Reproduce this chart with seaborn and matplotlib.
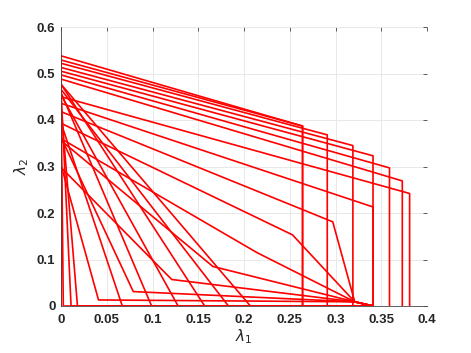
import numpy as np
import pandas as pd
import matplotlib
matplotlib.use("Agg")
import matplotlib.pyplot as plt
import seaborn as sns

# ---- data ----
# Family 1: (0,a) -> (b,c) -> (b,0)
box_start = [0.538, 0.529, 0.522, 0.513, 0.505, 0.497, 0.488, 0.450, 0.436]
box_cx = [0.264, 0.264, 0.291, 0.319, 0.341, 0.359, 0.373, 0.381, 0.341]
box_cy = [0.387, 0.387, 0.368, 0.345, 0.323, 0.297, 0.269, 0.242, 0.213]

# Family 2: (0,a) -> (cx,cy) -> knee point -> (end,0)
kink_start = [0.418, 0.393, 0.360, 0.356, 0.298, 0.363, 0.303]
kink_cx = [0.297, 0.253, 0.214, 0.166, 0.121, 0.079, 0.041]
kink_cy = [0.181, 0.153, 0.115, 0.085, 0.057, 0.031, 0.013]
knee_x = 0.321
knee_y = 0.009
kink_end = 0.341

# Family 3: straight lines (0,a) -> (x0,0)
line_start = [0.477, 0.466, 0.430, 0.394, 0.459, 0.454, 0.477, 0.466, 0.477]
line_end = [0.0025, 0.011, 0.018, 0.067, 0.099, 0.128, 0.157, 0.183, 0.207]

xticks = [0, 0.05, 0.1, 0.15, 0.2, 0.25, 0.3, 0.35, 0.4]
yticks = [0, 0.1, 0.2, 0.3, 0.4, 0.5, 0.6]
xtick_labels = ["0", "0.05", "0.1", "0.15", "0.2", "0.25", "0.3", "0.35", "0.4"]
ytick_labels = ["0", "0.1", "0.2", "0.3", "0.4", "0.5", "0.6"]

# ---- build long-form table ----
rows = []
cid = 0
for a, b, c in zip(box_start, box_cx, box_cy):
    for k, (x, y) in enumerate([(0, 0), (0, a), (b, c), (b, 0)]):
        rows.append((cid, k, x, y))
    cid += 1
for a, b, c in zip(kink_start, kink_cx, kink_cy):
    for k, (x, y) in enumerate([(0, 0), (0, a), (b, c), (knee_x, knee_y), (kink_end, 0)]):
        rows.append((cid, k, x, y))
    cid += 1
for a, e in zip(line_start, line_end):
    for k, (x, y) in enumerate([(0, 0), (0, a), (e, 0), (kink_end, 0)]):
        rows.append((cid, k, x, y))
    cid += 1
df = pd.DataFrame(rows, columns=["curve", "order", "x", "y"])

sns.set_style("white")
plt.rcParams["font.family"] = ["Liberation Sans", "DejaVu Sans"]

fig = plt.figure(figsize=(4.71, 3.53), dpi=100)
ax = fig.add_axes([61 / 471, 1 - 306 / 353, 366 / 471, 279 / 353])

sns.lineplot(data=df, x="x", y="y", units="curve", estimator=None, sort=False,
             color="#ff0000", linewidth=1.2, ax=ax, legend=False)

ax.set_xlim(0, 0.4)
ax.set_ylim(0, 0.6)
ax.set_xticks(xticks)
ax.set_xticklabels(xtick_labels)
ax.set_yticks(yticks)
ax.set_yticklabels(ytick_labels)
ax.grid(True, color="#e8e8e8", linewidth=0.7)
ax.set_axisbelow(True)
for s in ["top", "right"]:
    ax.spines[s].set_visible(False)
for s in ["bottom", "left"]:
    ax.spines[s].set_color("#444444")
    ax.spines[s].set_linewidth(0.6)
ax.tick_params(direction="in", length=3, width=0.6, color="#444444",
               top=True, right=True, labelsize=9.5, labelcolor="#262626")
ax.tick_params(axis="x", pad=6)
ax.tick_params(axis="y", pad=4)
for lab in ax.get_xticklabels() + ax.get_yticklabels():
    lab.set_fontweight("bold")
ax.set_xlabel("$\\lambda_1$", fontsize=11, color="#262626", labelpad=1)
ax.set_ylabel("$\\lambda_2$", fontsize=11, color="#262626", labelpad=4)

fig.savefig("out.png", dpi=100)
